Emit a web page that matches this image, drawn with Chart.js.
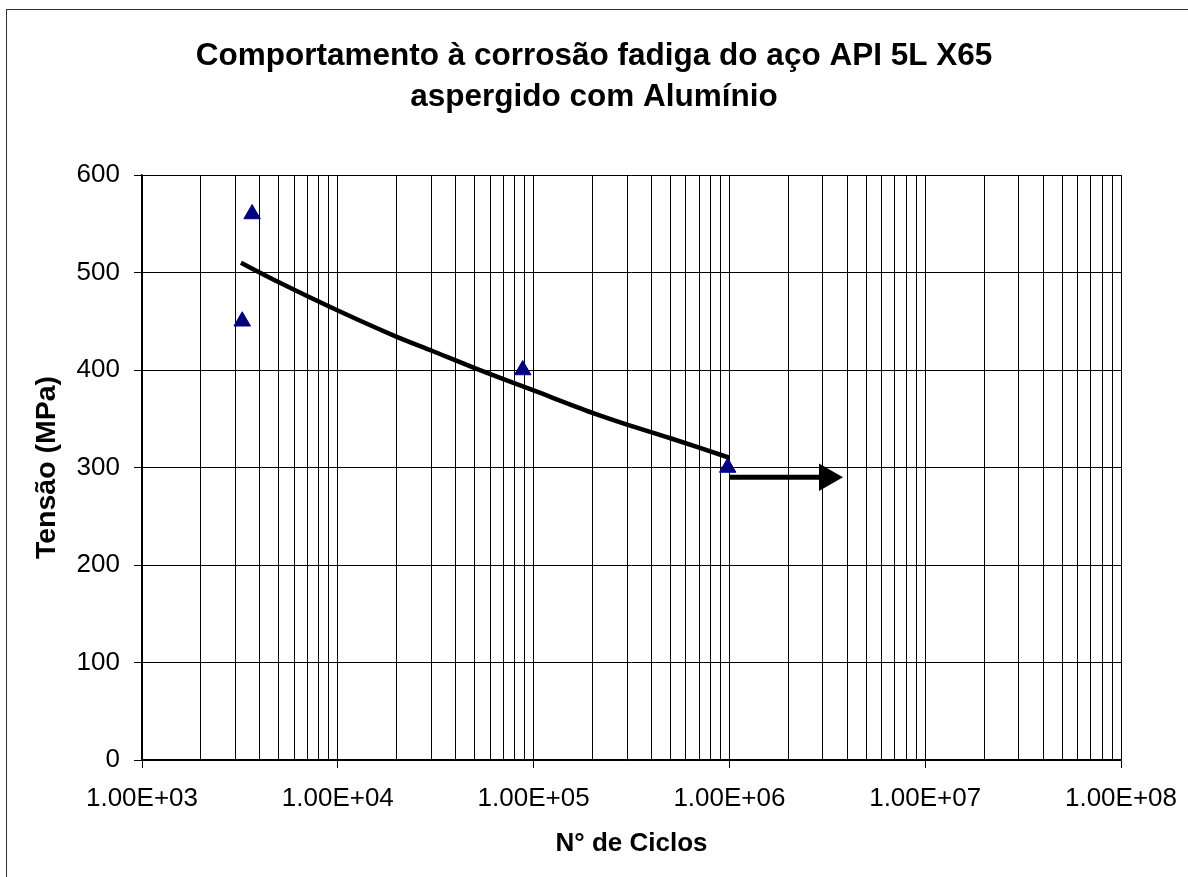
<!DOCTYPE html>
<html>
<head>
<meta charset="utf-8">
<script src="https://cdn.jsdelivr.net/npm/chart.js@4"></script>
<style>
  body { margin: 0; background: #fff; }
  #wrap { position: relative; width: 1188px; height: 877px; }
</style>
</head>
<body>
<div id="wrap"><canvas id="chart"></canvas></div>
<script>
const titleLines = ["Comportamento à corrosão fadiga do aço API 5L X65", "aspergido com Alumínio"]
const xTitle = "N° de Ciclos"
const yTitle = "Tensão (MPa)"

// ensaios (ciclos, tensão)
const testCycles = [3250, 3650, 88000, 980000]
const testStress = [450, 560, 400, 300]

// linha de tendência
const trendCycles = [3200, 5000, 10000, 20000, 30000, 50000, 100000, 200000, 300000, 500000, 1000000]
const trendStress = [510, 490, 461, 434, 420, 402, 379, 356, 344, 330, 310]

// seta de vida infinita
const arrowCycles = [1000000, 3150000]
const arrowStress = [290, 290]

const xDecades = [1e3, 1e4, 1e5, 1e6, 1e7, 1e8]
const yMin = 0
const yMax = 600
const yStep = 100

const FONT = "'Liberation Sans', Arial, sans-serif"

function toPoints(xs, ys) {
  return xs.map((x, i) => ({ x, y: ys[i] }))
}

function sciLabel(v) {
  const exp = Math.round(Math.log10(v))
  return "1.00E+" + String(exp).padStart(2, "0")
}

function isDecade(v) {
  return xDecades.some((d) => Math.abs(d - v) / d < 1e-9)
}

const frame = {
  id: "frame",
  beforeDraw(chart) {
    const ctx = chart.ctx
    ctx.save()
    ctx.fillStyle = "#fff"
    ctx.fillRect(0, 0, chart.width, chart.height)
    ctx.strokeStyle = "#333"
    ctx.lineWidth = 1
    ctx.strokeRect(6.5, 9.5, chart.width + 10, chart.height + 10)
    ctx.restore()
  }
}

new Chart(document.getElementById("chart"), {
  type: "scatter",
  data: {
    datasets: [
      {
        label: "Ensaios",
        data: toPoints(testCycles, testStress),
        pointStyle: "triangle",
        pointRadius: 9.5,
        pointHoverRadius: 9.5,
        backgroundColor: "#000080",
        borderColor: "#000080",
        borderWidth: 1,
        order: 0
      },
      {
        type: "line",
        label: "Tendência",
        data: toPoints(trendCycles, trendStress),
        borderColor: "#000",
        borderWidth: 4.5,
        pointRadius: 0,
        tension: 0.3,
        fill: false,
        order: 1
      },
      {
        type: "line",
        label: "Seta",
        data: toPoints(arrowCycles, arrowStress),
        borderColor: "#000",
        backgroundColor: "#000",
        borderWidth: 5,
        pointStyle: "triangle",
        pointRotation: 90,
        pointRadius: [0, 16],
        pointBorderWidth: 0,
        fill: false,
        order: 1
      }
    ]
  },
  options: {
    responsive: true,
    maintainAspectRatio: false,
    animation: false,
    events: [],
    layout: { padding: 0 },
    plugins: {
      legend: { display: false },
      tooltip: { enabled: false },
      title: {
        display: true,
        text: titleLines,
        color: "#000",
        font: { family: FONT, size: 31.5, weight: "bold", lineHeight: 1.3 },
        padding: { top: 36, bottom: 57.1 }
      }
    },
    scales: {
      x: {
        type: "logarithmic",
        min: xDecades[0],
        max: xDecades[xDecades.length - 1],
        afterFit(scale) {
          scale.height = 117
          scale.paddingLeft = 0
          scale.paddingRight = 0
        },
        afterBuildTicks(scale) {
          const ticks = []
          xDecades.forEach((d, i) => {
            ticks.push({ value: d, major: true })
            if (i < xDecades.length - 1) {
              for (let m = 2; m <= 9; m++) ticks.push({ value: d * m })
            }
          })
          scale.ticks = ticks
        },
        ticks: {
          autoSkip: false,
          maxRotation: 0,
          color: "#000",
          padding: 15,
          font: { family: FONT, size: 26 },
          callback: (v) => (isDecade(v) ? sciLabel(v) : "")
        },
        grid: {
          color: "#000",
          lineWidth: 1,
          tickLength: 8,
          tickColor: (c) => (c.tick && isDecade(c.tick.value) ? "#000" : "rgba(0,0,0,0)")
        },
        border: { display: true, color: "#000", width: 1.5 },
        title: {
          display: true,
          text: xTitle,
          color: "#000",
          font: { family: FONT, size: 26, weight: "bold" },
          padding: { top: 0, bottom: 18 }
        }
      },
      y: {
        min: yMin,
        max: yMax,
        afterFit(scale) { scale.width = 142 },
        ticks: {
          stepSize: yStep,
          color: "#000",
          padding: 14,
          font: { family: FONT, size: 26 }
        },
        grid: { color: "#000", lineWidth: 1, tickLength: 8, tickColor: "#000" },
        border: { display: true, color: "#000", width: 1.5 },
        title: {
          display: true,
          text: yTitle,
          color: "#000",
          font: { family: FONT, size: 28.5, weight: "bold" },
          padding: { top: 30, bottom: 0 }
        }
      },
      yRight: {
        position: "right",
        display: true,
        afterFit(scale) { scale.width = 67 },
        ticks: { display: false },
        grid: { display: false, drawOnChartArea: false },
        border: { display: false }
      }
    }
  },
  plugins: [frame]
})
</script>
</body>
</html>
